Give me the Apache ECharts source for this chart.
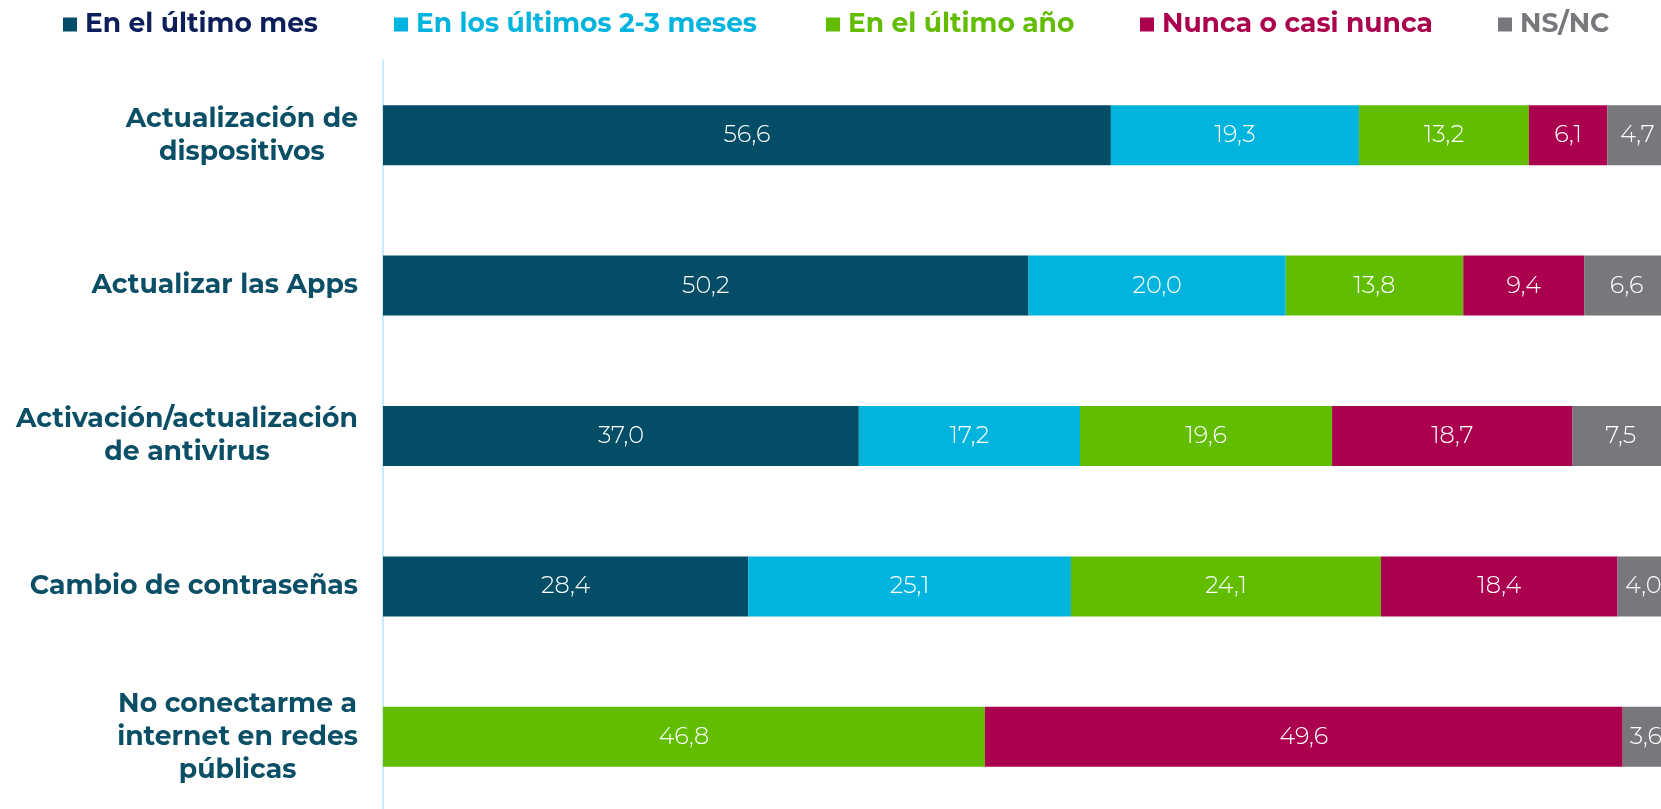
<!DOCTYPE html>
<html>

<head>
    <meta charset="utf-8">
    <title></title>
    <script src="https://cdn.jsdelivr.net/npm/echarts@6/dist/echarts.min.js"></script>
    <style>
        html,
        body {
            margin: 0;
            padding: 0;
            background: #fff;
        }

        #main {
            width: 1661px;
            height: 809px;
        }
    </style>
</head>

<body>
    <div id="main"></div>
    <script type="text/javascript">
        // 数据
        var categories = [
            'Actualización de\ndispositivos',
            'Actualizar las Apps',
            'Activación/actualización\nde antivirus',
            'Cambio de contraseñas',
            'No conectarme a\ninternet en redes\npúblicas'
        ];
        var seriesNames = ['En el último mes', 'En los últimos 2-3 meses', 'En el último año', 'Nunca o casi nunca', 'NS/NC'];
        var ultimoMes = [56.6, 50.2, 37.0, 28.4, '-'];
        var ultimos23 = [19.3, 20.0, 17.2, 25.1, '-'];
        var ultimoAno = [13.2, 13.8, 19.6, 24.1, 46.8];
        var nunca = [6.1, 9.4, 18.7, 18.4, 49.6];
        var nsnc = [4.7, 6.6, 7.5, 4.0, 3.6];

        var barColors = ['#034E66', '#00B4DE', '#62BD00', '#AB004D', '#77787B'];
        var legendTextColors = ['#0D1F5B', '#00B4DE', '#62BD00', '#AB004D', '#77787B'];
        var legendLeft = [63, 394, 826, 1140, 1498];
        var font = 'Montserrat, "Noto Sans", sans-serif';

        var allData = [ultimoMes, ultimos23, ultimoAno, nunca, nsnc];

        var myChart = echarts.init(document.getElementById('main'));

        var legends = seriesNames.map(function (name, i) {
            return {
                data: [name],
                left: legendLeft[i],
                top: 11,
                padding: 0,
                itemWidth: 14,
                itemHeight: 14,
                icon: 'rect',
                selectedMode: false,
                textStyle: {
                    color: legendTextColors[i],
                    fontSize: 26.5,
                    fontWeight: 'bold',
                    fontFamily: font,
                    padding: [0, 0, 0, 3]
                }
            };
        });

        var series = seriesNames.map(function (name, i) {
            return {
                name: name,
                type: 'bar',
                stack: 'total',
                barWidth: 60,
                data: allData[i],
                itemStyle: { color: barColors[i] },
                label: {
                    show: true,
                    position: 'inside',
                    color: '#fff',
                    fontSize: 24,
                    fontWeight: 300,
                    fontFamily: font,
                    formatter: function (p) {
                        return p.value.toFixed(1).replace('.', ',');
                    }
                }
            };
        });

        var option = {
            animation: false,
            legend: legends,
            grid: {
                left: 383,
                top: 60,
                width: 1286,
                height: 752,
                containLabel: false,
                outerBoundsMode: 'none'
            },
            xAxis: {
                type: 'value',
                min: 0,
                max: 100,
                show: false
            },
            yAxis: {
                type: 'category',
                inverse: true,
                data: categories,
                axisLine: { show: true, lineStyle: { color: '#C8EEFB', width: 2 } },
                axisTick: { show: false },
                axisLabel: {
                    margin: 25,
                    align: 'right',
                    formatter: function (value) {
                        return value.split('\n').map(function (l) {
                            return '{c|' + l + '}';
                        }).join('\n');
                    },
                    rich: {
                        c: {
                            align: 'center',
                            color: '#0B4F67',
                            fontSize: 26.7,
                            fontWeight: 'bold',
                            fontFamily: font,
                            lineHeight: 33
                        }
                    }
                }
            },
            series: series
        };

        myChart.setOption(option);
    </script>
</body>

</html>
